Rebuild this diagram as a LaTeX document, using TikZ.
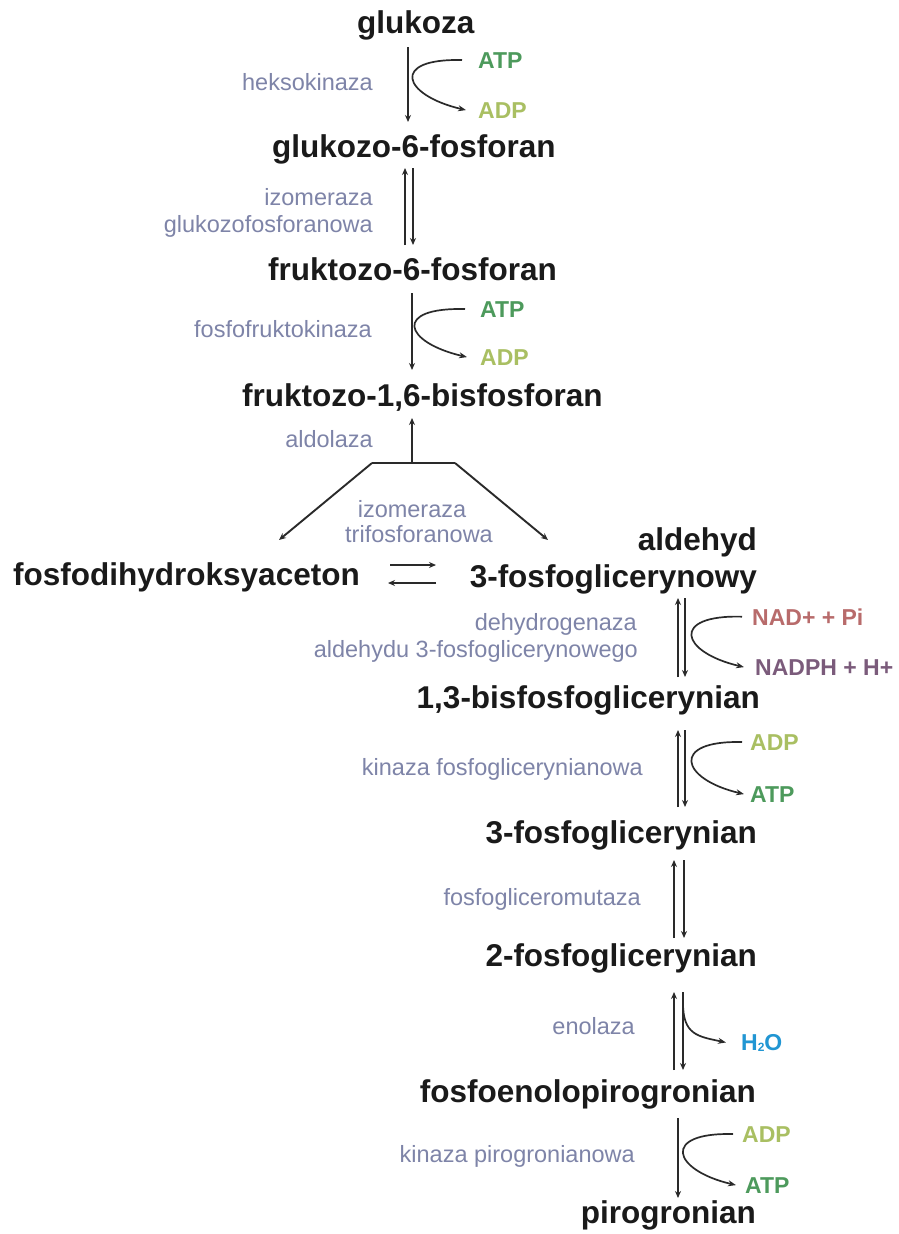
\documentclass[tikz,border=0pt]{standalone}
\usepackage{fontspec}
\setmainfont{Liberation Sans}
\usetikzlibrary{arrows.meta}
\definecolor{enzc}{HTML}{7E84A8}
\definecolor{linec}{HTML}{2A2A2A}
\definecolor{txtc}{HTML}{1A1A1A}
\definecolor{atpc}{HTML}{4D9A5C}
\definecolor{adpc}{HTML}{A9BF62}
\definecolor{nadc}{HTML}{B86B6B}
\definecolor{nadhc}{HTML}{7B5B7B}
\definecolor{h2oc}{HTML}{2196D3}
\begin{document}
\begin{tikzpicture}[x=1pt,y=-1pt,
  mainlbl/.style={font=\fontsize{31.5}{36}\selectfont\bfseries, inner sep=0pt, text=txtc},
  enz/.style={font=\fontsize{23.5}{27}\selectfont, inner sep=0pt, text=enzc},
  cof/.style={font=\fontsize{23}{27}\selectfont\bfseries, inner sep=0pt},
  ln/.style={draw=linec, line width=1.9pt},
  arr/.style={draw=linec, line width=1.9pt, -{Stealth[length=7pt,width=6pt]}},
  carr/.style={draw=linec, line width=1.7pt, -{Stealth[length=8pt,width=6pt]}},
  cofcurve/.style={carr}]
\fill[white] (0,0) rectangle (898,1234);
\useasboundingbox (0,0) rectangle (898,1234);

% main metabolites
\node[mainlbl, anchor=base west] (glc) at (357,33) {glukoza};
\node[mainlbl, anchor=base west] (g6p) at (272,157) {glukozo-6-fosforan};
\node[mainlbl, anchor=base west] (f6p) at (268,280) {fruktozo-6-fosforan};
\node[mainlbl, anchor=base west] (fbp) at (242,406) {fruktozo-1,6-bisfosforan};
\node[mainlbl, anchor=base west] (dhap) at (13,585) {fosfodihydroksyaceton};
\node[mainlbl, anchor=base east] (gapa) at (757,550) {aldehyd};
\node[mainlbl, anchor=base east] (gap) at (757,587) {3-fosfoglicerynowy};
\node[mainlbl, anchor=base east] (bpg) at (760,708) {1,3-bisfosfoglicerynian};
\node[mainlbl, anchor=base east] (pg3) at (757,843) {3-fosfoglicerynian};
\node[mainlbl, anchor=base east] (pg2) at (757,966) {2-fosfoglicerynian};
\node[mainlbl, anchor=base east] (pep) at (756,1102) {fosfoenolopirogronian};
\node[mainlbl, anchor=base east] (pyr) at (756,1223) {pirogronian};

% enzymes
\node[enz, anchor=base east] (e1) at (373,90) {heksokinaza};
\node[enz, anchor=base east] (e2a) at (373,205) {izomeraza};
\node[enz, anchor=base east] (e2b) at (373,232) {glukozofosforanowa};
\node[enz, anchor=base east] (e3) at (372,337) {fosfofruktokinaza};
\node[enz, anchor=base east] (e4) at (373,447) {aldolaza};
\node[enz, anchor=base] (e5a) at (412,517) {izomeraza};
\node[enz, anchor=base] (e5b) at (419,542) {trifosforanowa};
\node[enz, anchor=base east] (e6a) at (637,630) {dehydrogenaza};
\node[enz, anchor=base east] (e6b) at (638,657) {aldehydu 3-fosfoglicerynowego};
\node[enz, anchor=base east] (e7) at (643,775) {kinaza fosfoglicerynianowa};
\node[enz, anchor=base east] (e8) at (641,905) {fosfogliceromutaza};
\node[enz, anchor=base east] (e9) at (635,1034) {enolaza};
\node[enz, anchor=base east] (e10) at (635,1162) {kinaza pirogronianowa};

% cofactors
\node[cof, text=atpc, anchor=base west] (atp1) at (478,68) {ATP};
\node[cof, text=adpc, anchor=base west] (adp1) at (478,118) {ADP};
\node[cof, text=atpc, anchor=base west] (atp2) at (480,317) {ATP};
\node[cof, text=adpc, anchor=base west] (adp2) at (480,365) {ADP};
\node[cof, text=nadc, anchor=base west] (nad) at (752,625) {NAD+ + Pi};
\node[cof, text=nadhc, anchor=base west] (nadh) at (755,675) {NADPH + H+};
\node[cof, text=adpc, anchor=base west] (adp3) at (750,750) {ADP};
\node[cof, text=atpc, anchor=base west] (atp3) at (750,802) {ATP};
\node[cof, text=h2oc, anchor=base west] (h2o) at (741,1050) {H\raisebox{-1pt}{\fontsize{12}{12}\selectfont 2}O};
\node[cof, text=adpc, anchor=base west] (adp4) at (742,1142) {ADP};
\node[cof, text=atpc, anchor=base west] (atp4) at (745,1193) {ATP};

% reaction arrows (named end points)
\coordinate (r1s) at (408,47);  \coordinate (r1e) at (408,122);
\coordinate (r2u) at (405,168); \coordinate (r2d) at (405,245);
\coordinate (r2U) at (413,168); \coordinate (r2D) at (413,245);
\coordinate (r3s) at (412,293); \coordinate (r3e) at (412,370);
\coordinate (ald) at (412,418); \coordinate (barL) at (372,463);
\coordinate (barM) at (412,463); \coordinate (barR) at (455,463);
\coordinate (tipL) at (279,540); \coordinate (tipR) at (548,540);
\coordinate (eqA) at (390,565); \coordinate (eqB) at (436,565);
\coordinate (eqC) at (436,583); \coordinate (eqD) at (388,583);
\coordinate (r6u) at (678,598); \coordinate (r6d) at (678,677);
\coordinate (r6U) at (685,598); \coordinate (r6D) at (685,677);
\coordinate (r7u) at (678,730); \coordinate (r7d) at (678,807);
\coordinate (r7U) at (685,730); \coordinate (r7D) at (685,807);
\coordinate (r8u) at (674,860); \coordinate (r8d) at (674,938);
\coordinate (r8U) at (684,860); \coordinate (r8D) at (684,938);
\coordinate (r9u) at (674,992); \coordinate (r9d) at (674,1070);
\coordinate (r9U) at (683,992); \coordinate (r9D) at (683,1070);
\coordinate (r9c) at (683,1003);
\coordinate (r10s) at (678,1118); \coordinate (r10e) at (678,1198);

\draw[arr] (r1s) -- (r1e);
\draw[arr] (r2d) -- (r2u);
\draw[arr] (r2U) -- (r2D);
\draw[arr] (r3s) -- (r3e);
\draw[arr] (barM) -- (ald);
\draw[ln] (barL) -- (barR);
\draw[arr] (barL) -- (tipL);
\draw[arr] (barR) -- (tipR);
\draw[arr] (eqA) -- (eqB);
\draw[arr] (eqC) -- (eqD);
\draw[arr] (r6d) -- (r6u);
\draw[arr] (r6U) -- (r6D);
\draw[arr] (r7d) -- (r7u);
\draw[arr] (r7U) -- (r7D);
\draw[arr] (r8d) -- (r8u);
\draw[arr] (r8U) -- (r8D);
\draw[arr] (r9d) -- (r9u);
\draw[arr] (r9U) -- (r9D);
\draw[arr] (r10s) -- (r10e);

% cofactor curves
\draw[cofcurve] ([xshift=-16pt]atp1.west) .. controls +(-72,-2) and +(-64,-15) .. ([xshift=-12pt]adp1.west);
\draw[cofcurve] ([xshift=-15pt]atp2.west) .. controls +(-72,-2) and +(-64,-15) .. ([xshift=-13pt]adp2.west);
\draw[cofcurve] ([xshift=-10pt]nad.west) .. controls +(-72,-2) and +(-64,-15) .. ([xshift=-11pt]nadh.west);
\draw[cofcurve] ([xshift=-8pt]adp3.west) .. controls +(-72,-2) and +(-64,-15) .. ([xshift=-6pt]atp3.west);
\draw[cofcurve] (r9c) .. controls +(0,32) and +(-28,-6) .. ([xshift=-15pt]h2o.west);
\draw[cofcurve] ([xshift=-9pt]adp4.west) .. controls +(-72,-2) and +(-64,-15) .. ([xshift=-9pt]atp4.west);
\end{tikzpicture}
\end{document}
